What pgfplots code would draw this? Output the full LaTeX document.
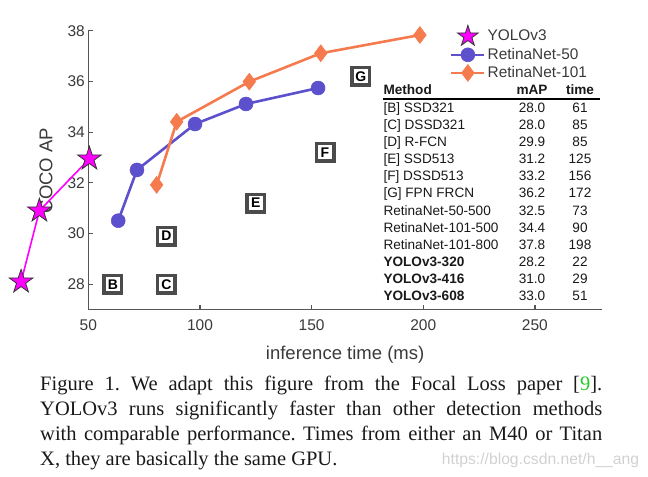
\documentclass[border=0pt]{standalone}
\usepackage{pgfplots}
\pgfplotsset{compat=1.18}
\usepackage{fontspec}
\setmainfont{Liberation Sans}
\newfontfamily\capfont{Liberation Serif}
\usetikzlibrary{plotmarks}

\definecolor{mag}{RGB}{255,0,255}
\definecolor{rfifty}{RGB}{92,80,204}
\definecolor{rhund}{RGB}{245,123,78}
\definecolor{txt}{RGB}{58,58,58}
\definecolor{axc}{RGB}{85,85,85}
\definecolor{boxc}{RGB}{75,75,75}
\definecolor{refgreen}{RGB}{40,200,40}

\pgfdeclareplotmark{fstar}{%
  \pgfpathmoveto{\pgfpointpolar{90}{\pgfplotmarksize}}%
  \pgfpathlineto{\pgfpointpolar{126}{0.382\pgfplotmarksize}}%
  \pgfpathlineto{\pgfpointpolar{162}{\pgfplotmarksize}}%
  \pgfpathlineto{\pgfpointpolar{198}{0.382\pgfplotmarksize}}%
  \pgfpathlineto{\pgfpointpolar{234}{\pgfplotmarksize}}%
  \pgfpathlineto{\pgfpointpolar{270}{0.382\pgfplotmarksize}}%
  \pgfpathlineto{\pgfpointpolar{306}{\pgfplotmarksize}}%
  \pgfpathlineto{\pgfpointpolar{342}{0.382\pgfplotmarksize}}%
  \pgfpathlineto{\pgfpointpolar{18}{\pgfplotmarksize}}%
  \pgfpathlineto{\pgfpointpolar{54}{0.382\pgfplotmarksize}}%
  \pgfpathclose
  \pgfusepathqfillstroke
}

\pgfplotstableread{
t ap
19.9 28.1
28.1 30.9
50.5 32.95
}\yolo
\pgfplotstableread{
t ap
63.4 30.51
71.8 32.51
97.8 34.32
120.6 35.11
152.9 35.74
}\retfifty
\pgfplotstableread{
t ap
80.6 31.92
89.6 34.41
122.1 35.99
154.1 37.11
198.5 37.83
}\rethund
\pgfplotstableread{
t ap lab
61 28.0 B
85 28.0 C
85 29.9 D
125 31.2 E
156 33.2 F
172 36.2 G
}\others

\begin{document}
\frenchspacing
\begin{tikzpicture}[x=1bp,y=1bp]
\path[use as bounding box] (0,0) rectangle (648,477);
\node[rotate=90, text=txt, font=\fontsize{18.5bp}{20bp}\selectfont, inner sep=0pt] at (46,306.3) {COCO AP};
\begin{axis}[
  at={(88.3bp,167.3bp)}, anchor=south west,
  scale only axis, width=513.6bp, height=279bp,
  xmin=50, xmax=280, ymin=27, ymax=38,
  axis lines*=left,
  axis line style={color=axc, line width=1.2bp},
  tick align=inside, major tick length=5bp,
  tick style={color=axc, line width=1.2bp},
  xtick={50,100,150,200,250}, ytick={28,30,32,34,36,38},
  /pgf/number format/assume math mode=true,
  ticklabel style={font=\fontsize{15.5bp}{18bp}\selectfont, text=txt},
  xticklabel style={yshift=-6bp},
  xlabel={inference time (ms)},
  xlabel style={font=\fontsize{18.5bp}{20bp}\selectfont, text=txt, yshift=-9bp},
  clip=false,
  legend cell align=left,
  legend style={at={(0.704,1.02)}, anchor=north west, draw=none, fill=none,
    font=\fontsize{15.4bp}{17bp}\selectfont, text=txt, inner sep=0pt, row sep=1.3bp},
]
\addplot[color=mag, line width=1.6bp, mark=fstar, mark size=12.5bp,
  mark options={fill=mag, draw=black!80, line width=0.8bp},
  legend image code/.code={\draw[mark=fstar, mark size=11bp, mark options={fill=mag, draw=black!80, line width=0.8bp}] plot coordinates {(16.5bp,0bp)};}]
  table[x=t,y=ap] {\yolo};
\addlegendentry{YOLOv3}
\addplot[color=rfifty, line width=2.6bp, mark=*, mark size=7bp,
  mark options={fill=rfifty, draw=rfifty, line width=0.5bp},
  legend image code/.code={\draw[mark repeat=2, mark phase=2] plot coordinates {(0bp,0bp)(16.5bp,0bp)(33bp,0bp)};}]
  table[x=t,y=ap] {\retfifty};
\addlegendentry{RetinaNet-50}
\addplot[color=rhund, line width=2.6bp, mark=diamond*, mark size=8.5bp,
  mark options={fill=rhund, draw=rhund, line width=0.5bp},
  legend image code/.code={\draw[mark repeat=2, mark phase=2] plot coordinates {(0bp,0bp)(16.5bp,0bp)(33bp,0bp)};}]
  table[x=t,y=ap] {\rethund};
\addlegendentry{RetinaNet-101}
\addplot[draw=none, mark=none, forget plot, nodes near coords, point meta=explicit symbolic,
  nodes near coords style={anchor=center, draw=boxc, line width=3.5bp, fill=white,
    minimum size=17.5bp, inner sep=0pt, text=black,
    font=\bfseries\fontsize{14bp}{14bp}\selectfont}]
  table[x=t,y=ap,meta=lab] {\others};
\end{axis}

% table
\begin{scope}[every node/.style={inner sep=0pt, text=black!90, font=\fontsize{13.6bp}{15bp}\selectfont}]
\node[anchor=base west, font=\bfseries\fontsize{13.6bp}{15bp}\selectfont] at (383.3,382) {Method};
\node[anchor=base, font=\bfseries\fontsize{13.6bp}{15bp}\selectfont] at (532,382) {mAP};
\node[anchor=base, font=\bfseries\fontsize{13.6bp}{15bp}\selectfont] at (580,382) {time};
\draw[line width=1.8bp, black] (383,378) -- (600,378);
\foreach \n/\m/\t [count=\i from 0] in {{[B] SSD321}/28.0/61, {[C] DSSD321}/28.0/85, {[D] R-FCN}/29.9/85, {[E] SSD513}/31.2/125, {[F] DSSD513}/33.2/156, {[G] FPN FRCN}/36.2/172, {RetinaNet-50-500}/32.5/73, {RetinaNet-101-500}/34.4/90, {RetinaNet-101-800}/37.8/198}{
  \node[anchor=base west] at (383.3,{364.8-17.14*\i}) {\n};
  \node[anchor=base] at (532,{364.8-17.14*\i}) {\m};
  \node[anchor=base] at (580,{364.8-17.14*\i}) {\t};
}
\foreach \n/\m/\t [count=\i from 9] in {{YOLOv3-320}/28.2/22, {YOLOv3-416}/31.0/29, {YOLOv3-608}/33.0/51}{
  \node[anchor=base west, font=\bfseries\fontsize{13.6bp}{15bp}\selectfont] at (383.3,{364.8-17.14*\i}) {\n};
  \node[anchor=base] at (532,{364.8-17.14*\i}) {\m};
  \node[anchor=base] at (580,{364.8-17.14*\i}) {\t};
}
\end{scope}

% caption
\node[anchor=base west, inner sep=0pt, text width=562bp, align=justify,
  font=\capfont\fontsize{20.5bp}{24.8bp}\selectfont, text=black!90] at (40,86.3)
  {Figure 1. We adapt this figure from the Focal Loss paper [{\color{refgreen}9}].\linebreak
   YOLOv3 runs significantly faster than other detection methods\linebreak
   with comparable performance. Times from either an M40 or Titan\linebreak
   X, they are basically the same GPU.};
\node[anchor=base west, inner sep=0pt, text=black!18, font=\fontsize{15.7bp}{17bp}\selectfont] at (441.7,12) {https://blog.csdn.net/h\_\_ang};
\end{tikzpicture}
\end{document}
